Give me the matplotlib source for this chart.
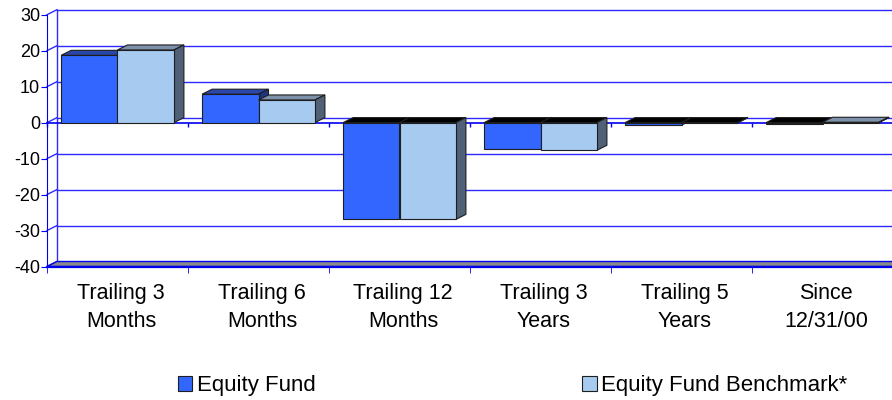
import matplotlib
matplotlib.use("Agg")
import matplotlib.pyplot as plt
from matplotlib.patches import Polygon, Patch

plt.rcParams['font.family'] = ['Liberation Sans', 'DejaVu Sans']

categories = ["Trailing 3\nMonths", "Trailing 6\nMonths", "Trailing 12\nMonths",
              "Trailing 3\nYears", "Trailing 5\nYears", "Since\n12/31/00"]
equity_fund = [18.7, 7.9, -26.8, -7.3, -0.7, -0.4]
benchmark = [20.2, 6.3, -26.9, -7.7, 0.0, 0.1]
yticks = [30, 20, 10, 0, -10, -20, -30, -40]

grid_blue = '#2b2bff'
axis_blue = '#0000ee'
edge = '#1e1e1e'

fig = plt.figure(figsize=(8.92, 4.0), dpi=100)
ax = fig.add_axes([47 / 892, 1 - 266.5 / 400, 846 / 892, (266.5 - 14.7) / 400])
ax.set_xlim(0, 6)
ax.set_ylim(-40, 30)

# depth offset of the 3d look, in data units
dx = 10 / 141
dy = 5 / 3.6

# back wall gridlines + left wall diagonals
for v in yticks:
    ax.plot([dx, 6 + dx], [v + dy, v + dy], color=grid_blue, lw=1, zorder=1, clip_on=False)
    ax.plot([0, dx], [v, v + dy], color=grid_blue, lw=1, zorder=1, clip_on=False)
ax.plot([dx, dx], [-40 + dy, 30 + dy], color=grid_blue, lw=1, zorder=1, clip_on=False)

# floor
ax.add_patch(Polygon([(0, -40), (6, -40), (6 + dx, -40 + dy), (dx, -40 + dy)],
                     closed=True, facecolor='#8a8a8a', edgecolor=axis_blue, lw=1,
                     zorder=2, clip_on=False))

# front zero line with category ticks
ax.plot([0, 6], [0, 0], color=axis_blue, lw=1.2, zorder=2, clip_on=False)
ax.vlines(range(7), -1.1, 0, color=axis_blue, lw=1, zorder=2, clip_on=False)

n = len(categories)
xs = list(range(n))
styles = [
    (equity_fund, [i + 0.3 for i in xs], '#3366ff', '#2a46a8', '#1f3580'),
    (benchmark, [i + 0.7 for i in xs], '#a6caf0', '#7d91aa', '#506076'),
]

z = 3
for i in xs:
    for vals, pos, front_c, top_c, side_c in styles:
        bar = ax.bar(pos[i], vals[i], width=0.4, color=front_c, edgecolor=edge,
                     lw=0.8, zorder=z + 2)[0]
        x0 = bar.get_x()
        x1 = x0 + bar.get_width()
        v = vals[i]
        top = max(v, 0)
        tc = top_c if v > 0 else '#000000'
        ax.add_patch(Polygon([(x0, top), (x1, top), (x1 + dx, top + dy), (x0 + dx, top + dy)],
                             closed=True, facecolor=tc, edgecolor=edge, lw=0.8,
                             zorder=z, clip_on=False))
        ax.add_patch(Polygon([(x1, 0), (x1, v), (x1 + dx, v + dy), (x1 + dx, dy)],
                             closed=True, facecolor=side_c, edgecolor=edge, lw=0.8,
                             zorder=z + 1, clip_on=False))
        z += 3

for s in ['top', 'right']:
    ax.spines[s].set_visible(False)
ax.spines['left'].set_color(axis_blue)
ax.spines['bottom'].set_color(axis_blue)
ax.spines['bottom'].set_linewidth(1.6)
ax.spines['bottom'].set_zorder(3)

ax.set_yticks(yticks)
ax.set_yticklabels([str(t) for t in yticks], fontsize=13)
ax.tick_params(axis='y', colors=axis_blue, labelcolor='black', length=4, pad=1)

ax.set_xticks([i + 0.525 for i in xs])
ax.set_xticklabels(categories, fontsize=15.5, linespacing=1.45)
ax.set_xticks(range(7), minor=True)
ax.tick_params(axis='x', which='major', length=0, pad=12, labelcolor='black')
ax.tick_params(axis='x', which='minor', length=4, color=axis_blue)

handles = [Patch(facecolor='#3366ff', edgecolor=edge, lw=0.8),
           Patch(facecolor='#a6caf0', edgecolor=edge, lw=0.8)]
fig.legend(handles, ['Equity Fund', 'Equity Fund Benchmark*'], ncol=2,
           loc='center left', bbox_to_anchor=(178 / 892, 1 - 386 / 400),
           frameon=False, fontsize=16, handlelength=0.65, handleheight=0.65,
           handletextpad=0.2, columnspacing=12.0, borderpad=0, borderaxespad=0)

fig.savefig("out.png", dpi=100)
